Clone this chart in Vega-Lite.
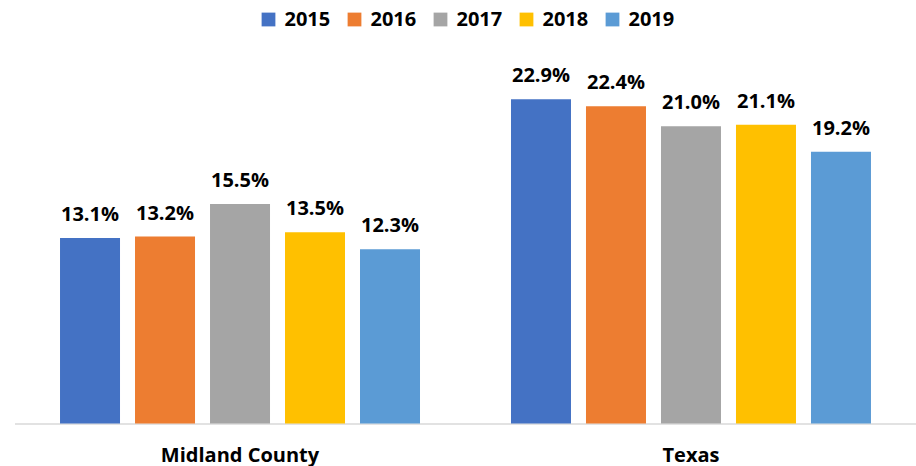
{
  "$schema": "https://vega.github.io/schema/vega-lite/v6.json",
  "autosize": "none",
  "width": 902,
  "height": 354,
  "padding": {"left": 14.5, "top": 69.5, "right": 0, "bottom": 42.5},
  "background": "white",
  "config": {
    "view": {"stroke": null},
    "font": "Open Sans"
  },
  "data": {
    "values": [
      {"region": "Midland County", "year": "2015", "rate": 0.131},
      {"region": "Midland County", "year": "2016", "rate": 0.132},
      {"region": "Midland County", "year": "2017", "rate": 0.155},
      {"region": "Midland County", "year": "2018", "rate": 0.135},
      {"region": "Midland County", "year": "2019", "rate": 0.123},
      {"region": "Texas", "year": "2015", "rate": 0.229},
      {"region": "Texas", "year": "2016", "rate": 0.224},
      {"region": "Texas", "year": "2017", "rate": 0.210},
      {"region": "Texas", "year": "2018", "rate": 0.211},
      {"region": "Texas", "year": "2019", "rate": 0.192}
    ]
  },
  "encoding": {
    "x": {
      "field": "region",
      "type": "nominal",
      "sort": null,
      "scale": {"paddingInner": 0.1685, "paddingOuter": 0.0843},
      "axis": {
        "title": null,
        "labelAngle": 0,
        "ticks": false,
        "domainColor": "#D9D9D9",
        "domainWidth": 1.5,
        "labelFont": "Open Sans",
        "labelFontWeight": "bold",
        "labelFontSize": 20,
        "labelColor": "#000000",
        "labelBaseline": "alphabetic",
        "labelPadding": 38
      }
    },
    "xOffset": {
      "field": "year",
      "type": "nominal",
      "scale": {"paddingInner": 0.2, "paddingOuter": 0.1}
    },
    "y": {
      "field": "rate",
      "type": "quantitative",
      "scale": {"domain": [0, 0.25], "nice": false},
      "axis": null
    }
  },
  "layer": [
    {
      "mark": {"type": "bar"},
      "encoding": {
        "color": {
          "field": "year",
          "type": "nominal",
          "scale": {
            "domain": ["2015", "2016", "2017", "2018", "2019"],
            "range": ["#4472C4", "#ED7D31", "#A5A5A5", "#FFC000", "#5B9BD5"]
          },
          "legend": {
            "title": null,
            "orient": "none",
            "direction": "horizontal",
            "legendX": 244,
            "legendY": -60,
            "symbolType": "square",
            "symbolSize": 190,
            "symbolStrokeWidth": 0,
            "symbolOpacity": 1,
            "labelFont": "Open Sans",
            "labelFontWeight": "bold",
            "labelFontSize": 20,
            "labelColor": "#000000",
            "labelOffset": 6,
            "columnPadding": 14
          }
        }
      }
    },
    {
      "mark": {
        "type": "text",
        "baseline": "alphabetic",
        "dy": -17,
        "font": "Open Sans",
        "fontWeight": "bold",
        "fontSize": 20,
        "color": "#000000"
      },
      "encoding": {
        "text": {"field": "rate", "type": "quantitative", "format": ".1%"}
      }
    }
  ]
}
